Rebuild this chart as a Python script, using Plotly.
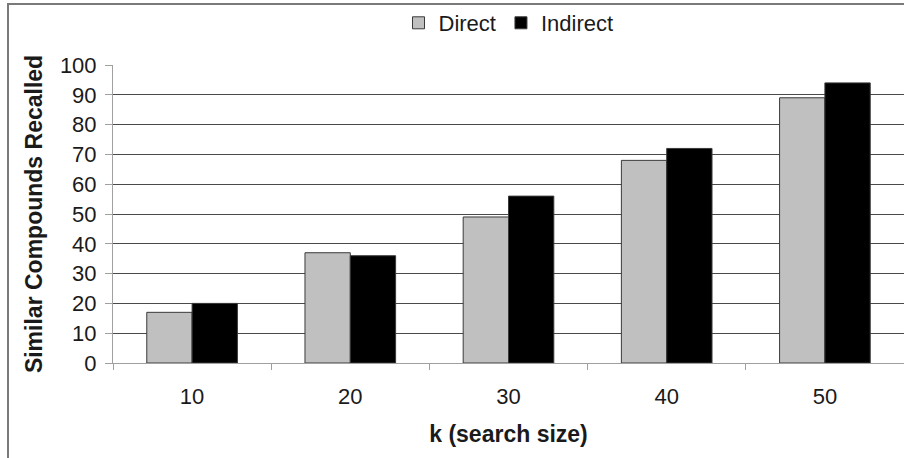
import plotly.graph_objects as go

categories = ["10", "20", "30", "40", "50"]
direct = [17, 37, 49, 68, 89]
indirect = [20, 36, 56, 72, 94]
y_ticks = [0, 10, 20, 30, 40, 50, 60, 70, 80, 90, 100]

FONT = "Liberation Sans, Arial, sans-serif"
W, H = 904, 458
L, R, T, B = 113, 0, 65, 95

fig = go.Figure()
fig.add_trace(go.Bar(name="Direct", x=categories, y=direct,
                     marker=dict(color="#c0c0c0", line=dict(color="#3a3a3a", width=1))))
fig.add_trace(go.Bar(name="Indirect", x=categories, y=indirect,
                     marker=dict(color="#000000", line=dict(color="#3a3a3a", width=1))))

pw = W - L - R
ph = H - T - B
# figure border (top + left visible)
fig.add_shape(type="rect", xref="paper", yref="paper",
              x0=(8 - L) / pw, x1=(W + 20 - L) / pw,
              y0=(H - B - (H + 20)) / ph, y1=(H - B - 4) / ph,
              line=dict(color="#7a7a7a", width=2), fillcolor="rgba(0,0,0,0)", layer="below")

fig.update_layout(
    width=W, height=H,
    margin=dict(l=L, r=R, t=T, b=B, pad=0, autoexpand=False),
    paper_bgcolor="white", plot_bgcolor="white",
    barmode="group", bargap=0.427, bargroupgap=0,
    font=dict(family=FONT, size=22, color="#1a1a1a"),
    legend=dict(orientation="h", x=0.5, xanchor="center", y=(H - B - 23) / ph, yanchor="middle",
                font=dict(size=22), itemwidth=30, tracegroupgap=0, bgcolor="rgba(0,0,0,0)"),
    xaxis=dict(
        title=dict(text="<b>k (search size)</b>", font=dict(size=23), standoff=17),
        showline=True, linecolor="#a0a0a0", linewidth=1, automargin=False,
        ticks="outside", tickson="boundaries", ticklen=6, tickcolor="#a0a0a0",
        ticklabelstandoff=14, showgrid=False,
        range=[-0.5, 4.5],
    ),
    yaxis=dict(
        title=dict(text="<b>Similar Compounds Recalled</b>", font=dict(size=23), standoff=10),
        range=[0, 100], tickvals=y_ticks, automargin=False,
        showline=True, linecolor="#a0a0a0", linewidth=1,
        ticks="outside", ticklen=7, tickcolor="#a0a0a0",
        showgrid=True, gridcolor="#4a4a4a", gridwidth=1,
        zeroline=False, ticklabelstandoff=4,
    ),
)

fig.write_html("out.html",
               config={"displayModeBar": False},
               post_script="document.body.style.margin='0';document.body.style.overflow='hidden';")
